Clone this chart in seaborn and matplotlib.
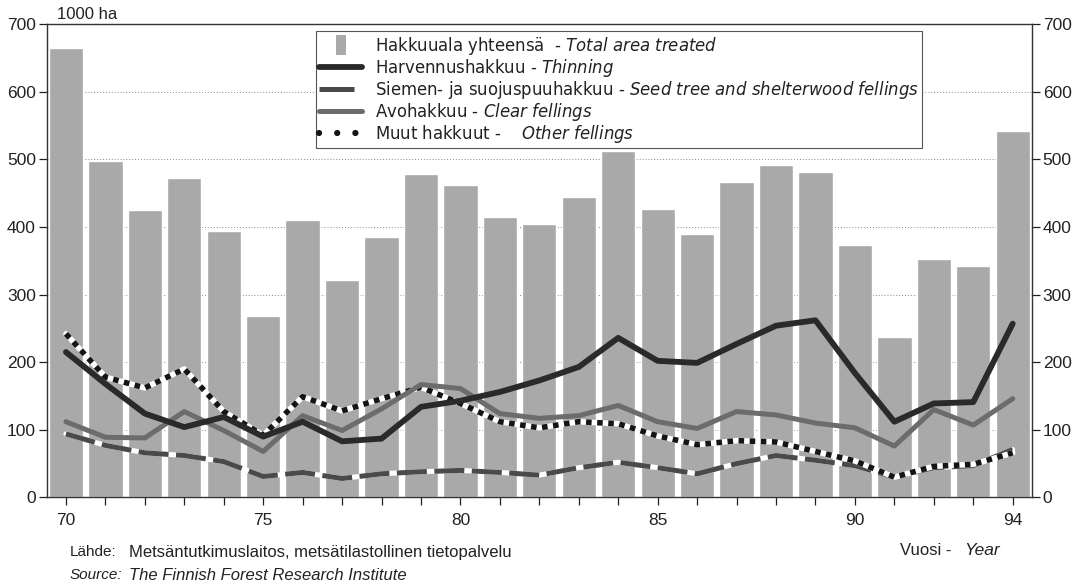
"""Hakkuualat 1970-1994: total area treated (bars) and felling types (lines)."""
import matplotlib
matplotlib.use("Agg")
import matplotlib.pyplot as plt
from matplotlib.lines import Line2D
import seaborn as sns

years = list(range(70, 95))
total_area = [665, 498, 425, 472, 394, 268, 410, 322, 385, 479, 462, 415, 405, 445, 512,
              427, 389, 466, 492, 482, 373, 237, 353, 342, 542]
thinning = [215, 168, 124, 104, 119, 90, 112, 83, 87, 134, 143, 156, 173, 193, 236,
            202, 199, 227, 254, 262, 184, 112, 139, 141, 257]
seed_tree = [94, 77, 66, 62, 53, 31, 37, 28, 35, 38, 40, 37, 33, 44, 52,
             44, 35, 50, 62, 55, 47, 30, 44, 47, 71]
clear_fellings = [112, 89, 88, 127, 99, 68, 121, 99, 131, 167, 161, 124, 117, 121, 136,
                  112, 102, 127, 122, 110, 103, 76, 130, 107, 146]
other_fellings = [242, 178, 162, 190, 127, 92, 149, 128, 146, 163, 139, 112, 103, 112, 109,
                  91, 78, 84, 82, 68, 54, 30, 46, 49, 66]
year_labels = {70: "70", 75: "75", 80: "80", 85: "85", 90: "90", 94: "94"}
y_ticks = [0, 100, 200, 300, 400, 500, 600, 700]

legend_labels = [
    r"Hakkuuala yhteensä  - $\it{Total\ area\ treated}$",
    r"Harvennushakkuu - $\it{Thinning}$",
    r"Siemen- ja suojuspuuhakkuu - $\it{Seed\ tree\ and\ shelterwood\ fellings}$",
    r"Avohakkuu - $\it{Clear\ fellings}$",
    r"Muut hakkuut -    $\it{Other\ fellings}$",
]

sns.set_style("ticks")
plt.rcParams["font.family"] = ["Liberation Sans", "DejaVu Sans"]
plt.rcParams["mathtext.fontset"] = "custom"
plt.rcParams["mathtext.rm"] = "DejaVu Sans"
plt.rcParams["mathtext.it"] = "DejaVu Sans:italic"
plt.rcParams["text.color"] = "#222222"

BAR = "#a9a9a9"
C_THIN, C_SEED, C_CLEAR, C_OTHER = "#2a2a2a", "#4a4a4a", "#6c6c6c", "#151515"

fig = plt.figure(figsize=(10.88, 5.88), dpi=100)
ax = fig.add_axes([0.0432, 0.154, 0.905, 0.805])

sns.barplot(x=years, y=total_area, native_scale=True, width=0.87, color=BAR,
            saturation=1, errorbar=None, ax=ax, zorder=2)

# white underlays make the dashed / dotted lines read as dark-white patterns
sns.lineplot(x=years, y=seed_tree, ax=ax, color="white", lw=3.6, zorder=3)
sns.lineplot(x=years, y=seed_tree, ax=ax, color=C_SEED, lw=3.6, zorder=4,
             linestyle=(0, (6, 1.5)), dash_capstyle="butt")
sns.lineplot(x=years, y=other_fellings, ax=ax, color="white", lw=4, zorder=5)
sns.lineplot(x=years, y=other_fellings, ax=ax, color=C_OTHER, lw=4, zorder=6,
             linestyle=(0, (1, 1)), dash_capstyle="butt")
sns.lineplot(x=years, y=clear_fellings, ax=ax, color=C_CLEAR, lw=3.6, zorder=7)
sns.lineplot(x=years, y=thinning, ax=ax, color=C_THIN, lw=4.2, zorder=8)

ax.set_xlim(69.52, 94.48)
ax.set_ylim(0, 700)
ax.set_xticks(years)
ax.set_xticklabels([year_labels.get(y, "") for y in years])
ax.set_yticks(y_ticks)
ax.set_yticklabels([str(v) for v in y_ticks])
ax.set_xlabel("")
ax.set_ylabel("")
ax.yaxis.grid(True, linestyle=(0, (1, 2)), color="#8a8a8a", lw=0.7)
ax.set_axisbelow(True)
ax.tick_params(axis="both", labelsize=12.5, colors="#222222", length=6, width=0.9)
ax.tick_params(axis="x", pad=5)
ax.tick_params(axis="y", right=True, labelright=True, pad=2)
for spine in ax.spines.values():
    spine.set_visible(True)
    spine.set_color("#333333")
    spine.set_linewidth(1.0)

bar_marker = [(-0.25, -0.5), (0.25, -0.5), (0.25, 0.5), (-0.25, 0.5), (-0.25, -0.5)]
handles = [
    Line2D([], [], ls="none", marker=bar_marker, markersize=15, color=BAR, markeredgewidth=0),
    Line2D([], [], color=C_THIN, lw=4.2),
    Line2D([], [], color=C_SEED, lw=3.6, linestyle=(0, (7, 2.8)), dash_capstyle="butt"),
    Line2D([], [], color=C_CLEAR, lw=3.6),
    Line2D([], [], color=C_OTHER, lw=4.5, linestyle=(0, (0.01, 2.9)), dash_capstyle="round"),
]
leg = ax.legend(handles, legend_labels, loc="upper left", bbox_to_anchor=(0.273, 0.985),
                prop={"family": "DejaVu Sans", "size": 11.9}, frameon=True, fancybox=False,
                framealpha=1, numpoints=1, handlelength=2.6, handletextpad=0.75,
                labelspacing=0.0, borderpad=0.22, borderaxespad=0)
leg.get_frame().set_edgecolor("#555555")
leg.get_frame().set_linewidth(0.8)
leg.set_zorder(10)

fig.text(0.052, 0.976, "1000 ha", fontsize=12, va="center", ha="left")
fig.text(0.064, 0.061, "Lähde:", fontsize=11, va="center")
fig.text(0.119, 0.061, "Metsäntutkimuslaitos, metsätilastollinen tietopalvelu", fontsize=12, va="center")
fig.text(0.064, 0.022, "Source:", fontsize=11, va="center", style="italic")
fig.text(0.119, 0.022, "The Finnish Forest Research Institute", fontsize=12, va="center", style="italic")
fig.text(0.827, 0.064, "Vuosi -", fontsize=12, va="center")
fig.text(0.886, 0.064, "Year", fontsize=12.5, va="center", style="italic")

fig.savefig("out.png", dpi=100)
